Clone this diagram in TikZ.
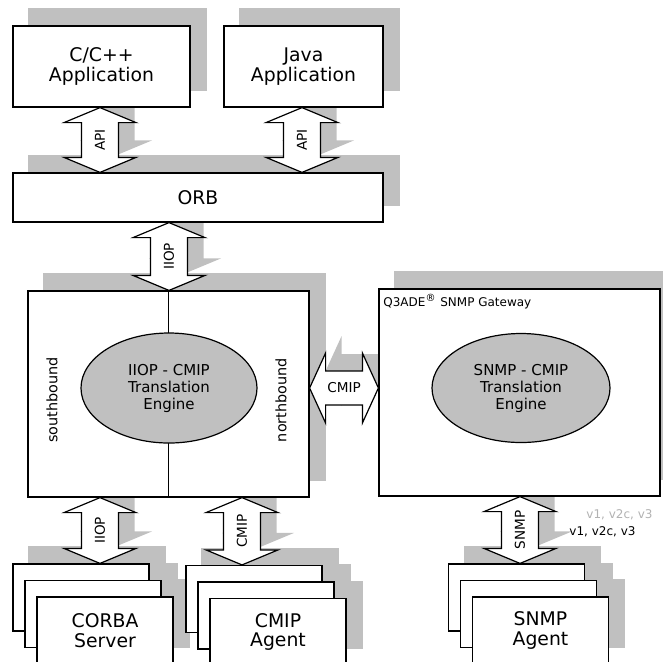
\documentclass[tikz,border=0pt]{standalone}
\usepackage{fontspec}
\setmainfont{DejaVu Sans}
\usetikzlibrary{calc, backgrounds, shapes.geometric}
\definecolor{shadowgray}{RGB}{192,192,192}
\definecolor{lightlabel}{RGB}{178,178,178}

\tikzset{
  box/.style={draw, fill=white, line width=.6pt, align=center, inner sep=0pt,
    font=\fontsize{9.4}{9.8}\selectfont},
  stackbox/.style={box, minimum width=68pt, minimum height=33.5pt},
  engine/.style={draw, ellipse, fill=shadowgray, line width=.6pt, align=center,
    inner sep=0pt, font=\fontsize{7.5}{8.5}\selectfont},
  shadowfill/.style={fill=shadowgray},
  blockarrow/.style={draw, fill=white, line width=.6pt},
  arrowlabel/.style={font=\fontsize{6.8}{8}\selectfont, inner sep=0pt},
  sidelabel/.style={font=\fontsize{7.2}{8}\selectfont, rotate=90, inner sep=0pt},
  smalllabel/.style={font=\fontsize{6}{7}\selectfont, inner sep=0pt},
}

% double block arrows, top tip #2 and bottom tip #3
\newcommand{\varrow}[3]{\path[#1] (#2) -- ($(#2)+(36,15)$) -- ($(#2)+(18.5,15)$)
  -- ($(#3)+(18.5,-15)$) -- ($(#3)+(36,-15)$) -- (#3) -- ($(#3)+(-36,-15)$)
  -- ($(#3)+(-18.5,-15)$) -- ($(#2)+(-18.5,15)$) -- ($(#2)+(-36,15)$) -- cycle;}
% same, left tip #2 and right tip #3
\newcommand{\harrow}[3]{\path[#1] (#2) -- ($(#2)+(16,-35)$) -- ($(#2)+(16,-17)$)
  -- ($(#3)+(-16,-17)$) -- ($(#3)+(-16,-35)$) -- (#3) -- ($(#3)+(-16,35)$)
  -- ($(#3)+(-16,17)$) -- ($(#2)+(16,17)$) -- ($(#2)+(16,35)$) -- cycle;}

\begin{document}
\begin{tikzpicture}[x=.5pt, y=-.5pt]
\useasboundingbox (0,0) rectangle (663,661);
% applications and ORB
\node[box, minimum width=88.5pt, minimum height=40.5pt] (cpp) at (101.5,66.5) {C/C++\\Application};
\node[box, minimum width=79.5pt, minimum height=40.5pt] (java) at (303.5,66.5) {Java\\Application};
\node[box, minimum width=185pt, minimum height=24.5pt] (orb) at (198,197.5) {ORB};
% translation engines
\node[box, minimum width=140.5pt, minimum height=103pt] (core) at (168.5,394) {};
\draw[line width=.6pt] (core.north) -- (core.south);
\node[engine, minimum width=88pt, minimum height=55pt] (iiopeng) at (169,388) {IIOP - CMIP\\Translation\\Engine};
\node[sidelabel] (south) at (52,400) {southbound};
\node[sidelabel] (north) at (281,400) {northbound};
\node[box, minimum width=140.5pt, minimum height=103.5pt] (gw) at (519.5,392.5) {};
\node[smalllabel, anchor=west] (gwname) at (383,302) {Q3ADE\textsuperscript{®} SNMP Gateway};
\node[engine, minimum width=89pt, minimum height=54.5pt] (snmpeng) at (521,388) {SNMP - CMIP\\Translation\\Engine};
% agents, three deep
\foreach \s/\x/\y/\txt in {corba/81/597.5/{CORBA\\Server}, cmipa/254/599/{CMIP\\Agent}, snmpa/516.5/597.5/{SNMP\\Agent}}{
  \node[stackbox] (\s0) at (\x,\y) {};
  \node[stackbox] (\s1) at (\x+12,\y+16.5) {};
  \node[stackbox] (\s2) at (\x+24,\y+33) {\txt};
}
%shadows
\begin{scope}[on background layer]
\foreach \n in {cpp,java,orb,core,gw,corba0,corba1,corba2,cmipa0,cmipa1,cmipa2,snmpa0,snmpa1,snmpa2}
  \fill[shadowfill] ([shift={(16,-17)}]\n.south west) rectangle ([shift={(16,-17)}]\n.north east);
\end{scope}
% protocol arrows
\foreach \x/\u/\l/\lab [count=\i] in {100/cpp/orb/API, 302/java/orb/API, 169/orb/core/IIOP,
    100/core/corba0/IIOP, 242/core/cmipa0/CMIP, 520/gw/snmpa0/SNMP}{
  \coordinate (t\i) at (\x,0 |- \u.south);
  \coordinate (b\i) at (\x,0 |- \l.north);
  \coordinate (ts\i) at ($(t\i)+(16,-17)$);
  \coordinate (bs\i) at ($(b\i)+(16,-17)$);
  \begin{scope}[on background layer]
    \varrow{shadowfill}{ts\i}{bs\i}
  \end{scope}
  \varrow{blockarrow}{t\i}{b\i}
  \node[arrowlabel, rotate=90] (lab\i) at ($(t\i)!.5!(b\i)$) {\lab};
}
\coordinate (cl) at (core.east |- 0,388);
\coordinate (cr) at (gw.west |- 0,388);
\coordinate (cls) at ($(cl)+(16,-17)$);
\coordinate (crs) at ($(cr)+(16,-17)$);
\begin{scope}[on background layer]
  \harrow{shadowfill}{cls}{crs}
\end{scope}
\harrow{blockarrow}{cl}{cr}
\node[arrowlabel] (labcmip) at ($(cl)!.5!(cr)$) {CMIP};
% snmp versions
\node[smalllabel, text=lightlabel] (vergray) at (619.5,515) {v1, v2c, v3};
\node[smalllabel] (ver) at (602.5,532) {v1, v2c, v3};
\end{tikzpicture}
\end{document}
